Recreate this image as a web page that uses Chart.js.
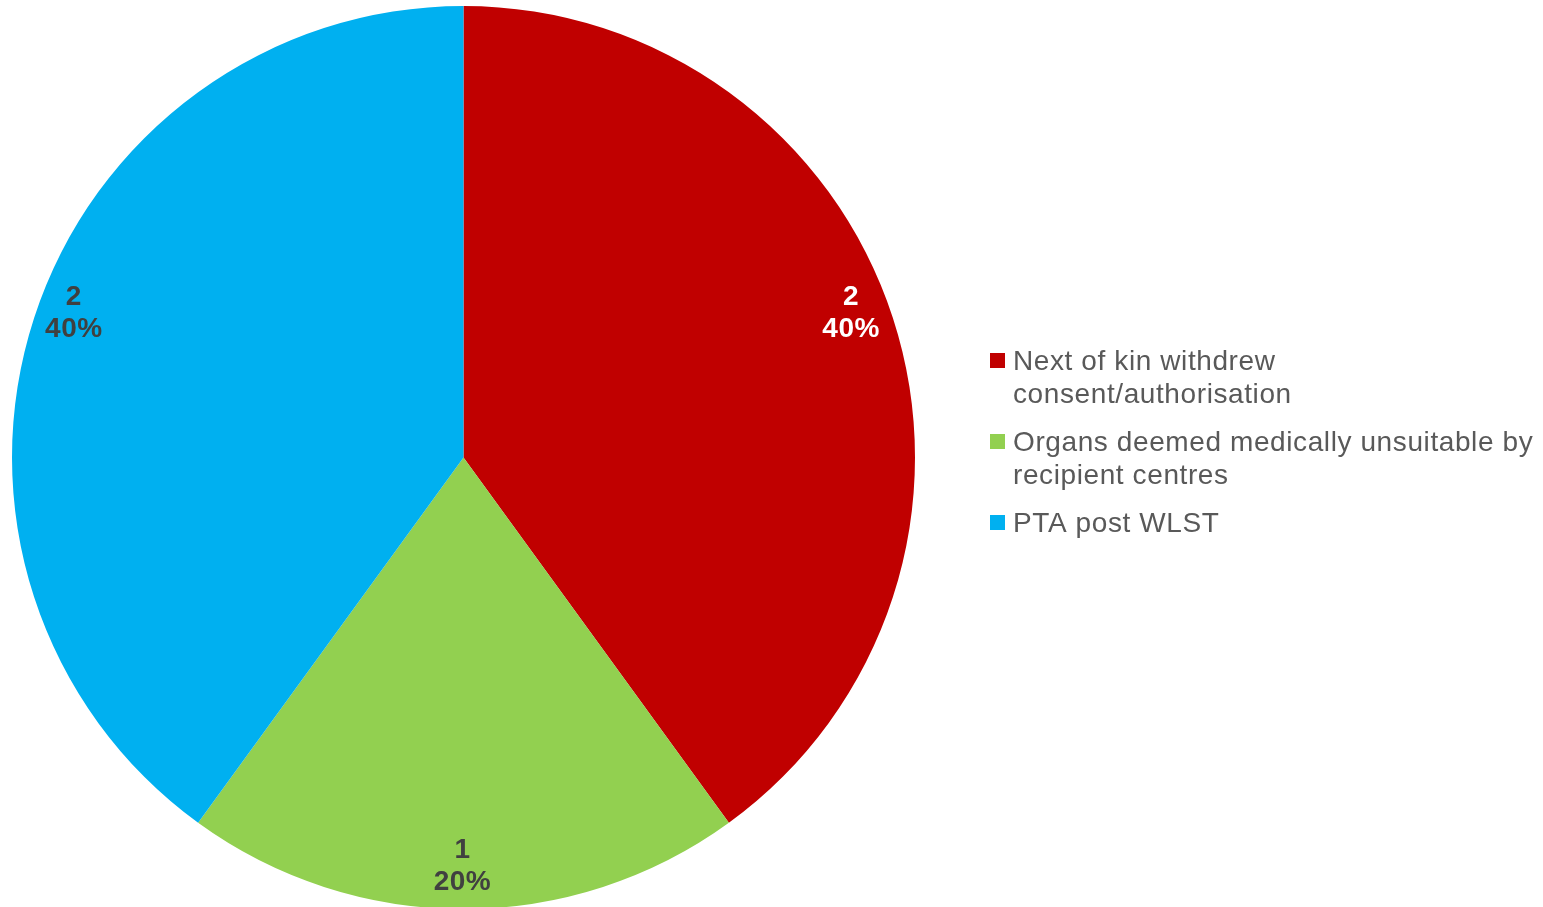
<!DOCTYPE html>
<html>
<head>
<meta charset="utf-8">
<script src="https://cdn.jsdelivr.net/npm/chart.js@4.4.1/dist/chart.umd.min.js"></script>
<style>
  html, body { margin: 0; padding: 0; background: #ffffff; overflow: hidden; }
  #wrap { position: absolute; left: 0; top: 0; width: 1543px; height: 912px; }
</style>
</head>
<body>
<div id="wrap"><canvas id="c"></canvas></div>
<script>
const categories = [
  ["Next of kin withdrew", "consent/authorisation"],
  ["Organs deemed medically unsuitable by", "recipient centres"],
  ["PTA post WLST"]
];
const counts = [2, 1, 2];
const colors = ["#C00000", "#92D050", "#00B0F0"];
const labelColors = ["#FFFFFF", "#404040", "#404040"];

const FONT = "'Liberation Sans', Arial, sans-serif";

const labelPlugin = {
  id: 'sliceLabels',
  afterDatasetsDraw(chart) {
    const ctx = chart.ctx;
    const meta = chart.getDatasetMeta(0);
    const data = chart.data.datasets[0].data;
    const total = data.reduce((a, b) => a + b, 0);
    ctx.save();
    ctx.font = "bold 28px " + FONT;
    ctx.letterSpacing = '0.5px';
    ctx.textAlign = 'center';
    ctx.textBaseline = 'middle';
    meta.data.forEach((arc, i) => {
      const p = arc.getProps(['x', 'y', 'startAngle', 'endAngle', 'outerRadius'], true);
      const mid = (p.startAngle + p.endAngle) / 2;
      const d = p.outerRadius * 0.905;
      const x = p.x + d * Math.cos(mid) - 1;
      const y = p.y + d * Math.sin(mid) - 19 * Math.abs(Math.cos(mid));
      ctx.fillStyle = labelColors[i];
      const pct = Math.round(data[i] / total * 100) + '%';
      ctx.fillText(String(data[i]), x, y - 16);
      ctx.fillText(pct, x, y + 16);
    });
    ctx.restore();
  }
};

const legendPlugin = {
  id: 'sideLegend',
  afterDraw(chart) {
    const ctx = chart.ctx;
    ctx.save();
    ctx.font = "28px " + FONT;
    ctx.letterSpacing = '0.6px';
    ctx.textAlign = 'left';
    ctx.textBaseline = 'alphabetic';
    const boxX = 990, textX = 1013, lineH = 33, gap = 15;
    let base = 370;
    chart.data.labels.forEach((lines, i) => {
      ctx.fillStyle = chart.data.datasets[0].backgroundColor[i];
      ctx.fillRect(boxX, base - 17, 15, 15);
      ctx.fillStyle = '#595959';
      lines.forEach((t, j) => ctx.fillText(t, textX, base + j * lineH));
      base += lines.length * lineH + gap;
    });
    ctx.restore();
  }
};

new Chart(document.getElementById('c'), {
  type: 'pie',
  data: {
    labels: categories,
    datasets: [{
      data: counts,
      backgroundColor: colors,
      borderWidth: 0
    }]
  },
  options: {
    responsive: true,
    maintainAspectRatio: false,
    animation: false,
    layout: { padding: { left: 12, top: 6, right: 628, bottom: 3 } },
    plugins: {
      legend: { display: false },
      tooltip: { enabled: false }
    }
  },
  plugins: [labelPlugin, legendPlugin]
});
</script>
</body>
</html>
